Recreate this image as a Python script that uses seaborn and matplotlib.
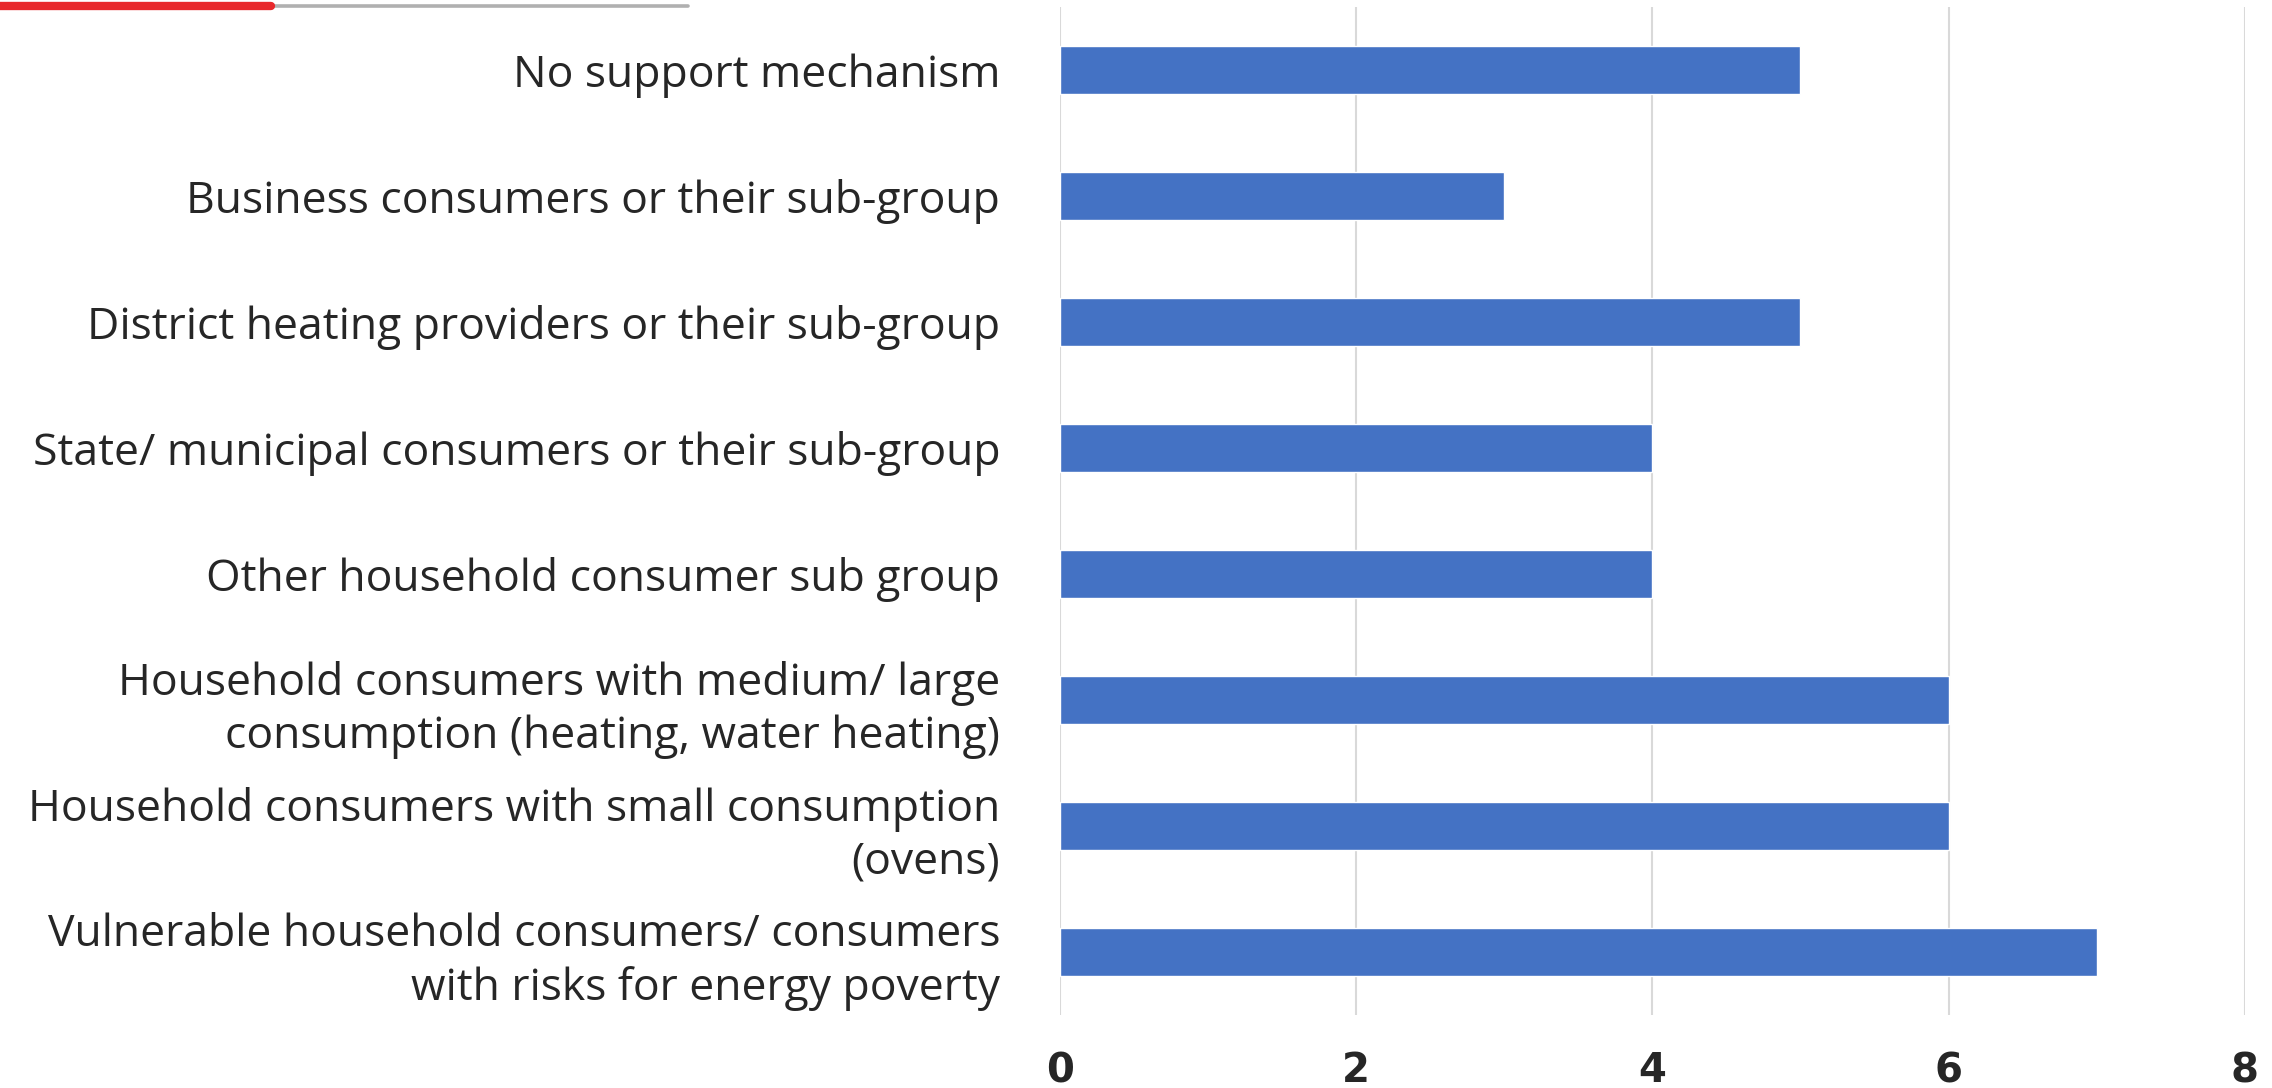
import matplotlib
matplotlib.use("Agg")
import matplotlib.pyplot as plt
import seaborn as sns
import pandas as pd
from matplotlib.lines import Line2D

categories = [
    "No support mechanism",
    "Business consumers or their sub-group",
    "District heating providers or their sub-group",
    "State/ municipal consumers or their sub-group",
    "Other household consumer sub group",
    "Household consumers with medium/ large\nconsumption (heating, water heating)",
    "Household consumers with small consumption\n(ovens)",
    "Vulnerable household consumers/ consumers\nwith risks for energy poverty",
]
values = [5, 3, 5, 4, 4, 6, 6, 7]
x_ticks = [0, 2, 4, 6, 8]

sns.set_theme(style="white")
plt.rcParams['font.family'] = ['Open Sans', 'DejaVu Sans']

df = pd.DataFrame({"category": categories, "value": values})

fig = plt.figure(figsize=(22.72, 10.88), dpi=100)
ax = fig.add_axes([0.4665, 0.067, 0.988 - 0.4665, 0.9936 - 0.067])

sns.barplot(data=df, y="category", x="value", orient="h", color="#4472C4",
            width=0.38, ax=ax, saturation=1)

ax.set_xlim(0, 8)
ax.set_xticks(x_ticks)
ax.set_xticklabels([str(t) for t in x_ticks], fontsize=29, fontweight="bold",
                   family=["Liberation Sans Narrow", "DejaVu Sans"])
ax.tick_params(axis="x", length=0, pad=26)
ax.tick_params(axis="y", length=0, pad=43, labelsize=32)
for lbl in ax.get_yticklabels():
    lbl.set_linespacing(1.25)
ax.set_xlabel("")
ax.set_ylabel("")
ax.grid(axis="x", color="#D9D9D9", linewidth=1.5)
ax.set_axisbelow(True)
for s in ax.spines.values():
    s.set_visible(False)

# decorative header lines
fig.add_artist(Line2D([271 / 2272, 688 / 2272], [1 - 6 / 1088, 1 - 6 / 1088],
                      color="#B0B0B0", linewidth=2.6))
fig.add_artist(Line2D([0, 271 / 2272], [1 - 6 / 1088, 1 - 6 / 1088],
                      color="#E8292C", linewidth=6))

fig.savefig("out.png", dpi=100)
